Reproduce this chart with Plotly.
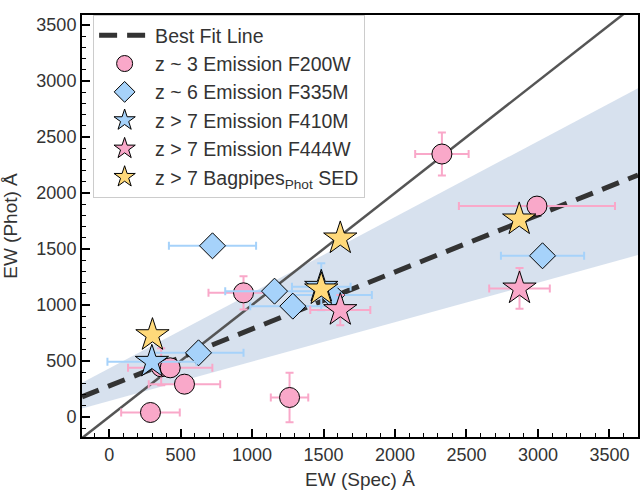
import plotly.graph_objects as go

# ---------------- data ----------------
# z ~ 3 Emission F200W (pink circles)
f200w_x = [289, 527, 364, 427, 940, 1262, 2328, 2993]
f200w_y = [39, 292, 447, 438, 1108, 173, 2348, 1883]
f200w_xerr = [205, 250, 0, 295, 245, 131, 187, 546]
f200w_yerr = [0, 0, 165, 0, 148, 221, 192, 0]

# z ~ 6 Emission F335M (blue diamonds)
f335m_x = [625, 723, 1157, 1285, 1558, 3032]
f335m_y = [572, 1528, 1123, 989, 1088, 1439]
f335m_xerr = [315, 305, 345, 298, 280, 291]
f335m_yerr = [0, 0, 0, 0, 0, 0]

# z > 7 Emission F410M (blue stars)
f410m_x = [299, 1484]
f410m_y = [492, 1162]
f410m_xerr = [311, 205]
f410m_yerr = [0, 210]

# z > 7 Emission F444W (pink stars)
f444w_x = [1617, 2871]
f444w_y = [954, 1147]
f444w_xerr = [210, 212]
f444w_yerr = [135, 182]

# z > 7 Bagpipes Phot SED (yellow stars)
bagp_x = [303, 1484, 1617, 2869]
bagp_y = [730, 1139, 1594, 1764]

# best fit line end points and its confidence band
fit_x = [-190, 3700]
fit_y = [179, 2160]
band_x = [-190, 3700]
band_lo = [75, 1445]
band_hi = [304, 2935]

# one-to-one line
one_x = [-200, 3700]
one_y = [-200, 3700]

x_ticks = [0, 500, 1000, 1500, 2000, 2500, 3000, 3500]
y_ticks = [0, 500, 1000, 1500, 2000, 2500, 3000, 3500]

# ---------------- styles ----------------
PINK = "#f9a8c9"
BLUE = "#a6d2fa"
YELLOW = "#ffd97a"
FONT = "Liberation Sans, Arial, sans-serif"
TXT = "#333333"

fig = go.Figure()

# confidence band
fig.add_trace(go.Scatter(
    x=band_x + band_x[::-1], y=band_hi + band_lo[::-1],
    fill="toself", fillcolor="rgba(176,196,222,0.5)",
    line=dict(width=0), mode="lines", hoverinfo="skip", showlegend=False))

# 1:1 line
fig.add_trace(go.Scatter(
    x=one_x, y=one_y, mode="lines",
    line=dict(color="#555555", width=2.5), showlegend=False))

# best fit
fig.add_trace(go.Scatter(
    x=fit_x, y=fit_y, mode="lines", name="Best Fit Line",
    legendgroup="a",
    line=dict(color="#333333", width=5, dash="18px,10px")))


def pts(x, y, xerr, yerr, color, symbol, size, name, grp):
    kw = {}
    if xerr is not None:
        kw["error_x"] = dict(type="data", array=xerr, color=color,
                             thickness=2, width=4)
    if yerr is not None:
        kw["error_y"] = dict(type="data", array=yerr, color=color,
                             thickness=2, width=4)
    fig.add_trace(go.Scatter(
        x=x, y=y, mode="markers", name=name, legendgroup=grp,
        marker=dict(color=color, symbol=symbol, size=size,
                    line=dict(color="black", width=1)),
        **kw))


pts(f200w_x, f200w_y, f200w_xerr, f200w_yerr, PINK, "circle", 20,
    "z ~ 3 Emission F200W", "b")
pts(f335m_x, f335m_y, f335m_xerr, f335m_yerr, BLUE, "diamond", 20,
    "z ~ 6 Emission F335M", "c")
pts(f410m_x, f410m_y, f410m_xerr, f410m_yerr, BLUE, "star", 25,
    "z > 7 Emission F410M", "d")
pts(f444w_x, f444w_y, f444w_xerr, f444w_yerr, PINK, "star", 25,
    "z > 7 Emission F444W", "e")
pts(bagp_x, bagp_y, None, None, YELLOW, "star", 25,
    "z > 7 Bagpipes<sub>Phot</sub> SED", "f")

axis_common = dict(
    showline=True, linecolor="black", linewidth=2, mirror=True,
    ticks="inside", ticklen=8, tickwidth=2, tickcolor="black",
    showgrid=False, zeroline=False, automargin=False,
    tickfont=dict(size=18, color=TXT, family=FONT),
    minor=dict(ticks="inside", ticklen=4, tickwidth=1.2,
               tickcolor="black", dtick=100, showgrid=False),
)

fig.update_xaxes(range=[-190, 3700], tickvals=x_ticks,
                 title=dict(text="EW (Spec) Å",
                            font=dict(size=19, color=TXT, family=FONT)),
                 **axis_common)
fig.update_yaxes(range=[-180, 3590], tickvals=y_ticks,
                 title=dict(text="EW (Phot) Å",
                            font=dict(size=19, color=TXT, family=FONT)),
                 **axis_common)

fig.update_layout(
    width=640, height=490,
    margin=dict(l=82, r=2, t=15, b=53),
    paper_bgcolor="white", plot_bgcolor="white",
    font=dict(family=FONT, size=18, color=TXT),
    legend=dict(x=0.02, y=1.0, xanchor="left", yanchor="top",
                bgcolor="white", bordercolor="#cccccc", borderwidth=1,
                tracegroupgap=0, itemwidth=51,
                font=dict(size=19.5, color=TXT, family=FONT)),
    showlegend=True,
)

fig.write_html("out.html",
               config={"displayModeBar": False},
               post_script="document.body.style.margin='0';")
